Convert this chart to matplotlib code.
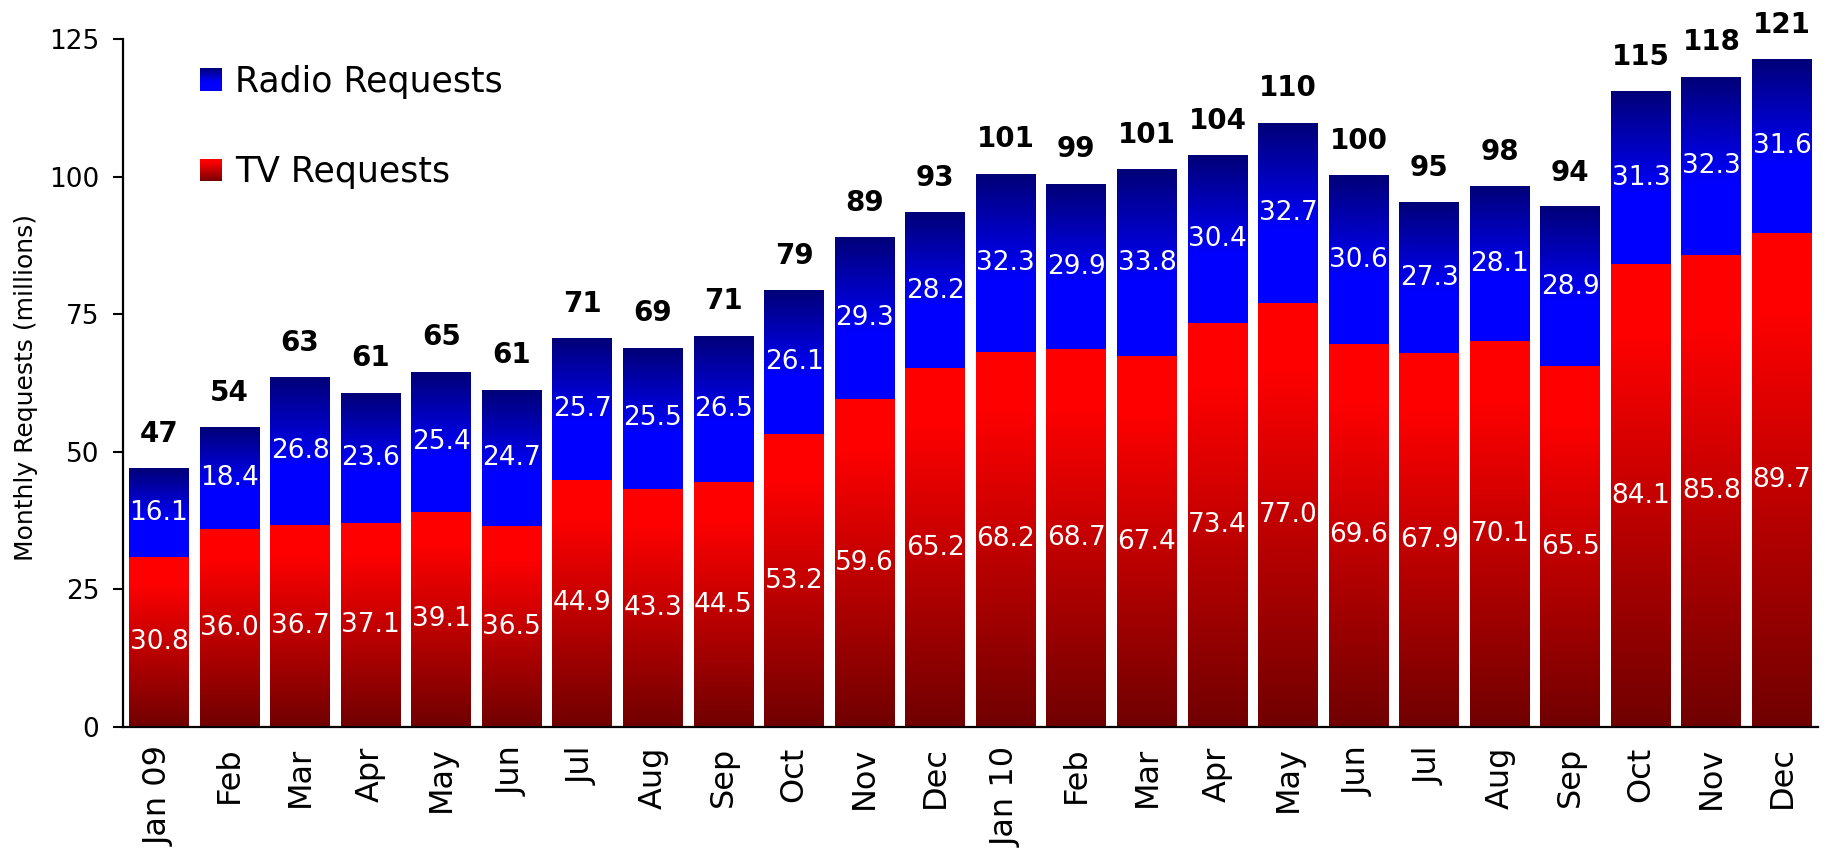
import numpy as np
import matplotlib.pyplot as plt
from matplotlib.colors import LinearSegmentedColormap
from matplotlib.legend_handler import HandlerBase
from matplotlib.patches import Rectangle

months = ['Jan 09', 'Feb', 'Mar', 'Apr', 'May', 'Jun', 'Jul', 'Aug', 'Sep', 'Oct', 'Nov', 'Dec',
          'Jan 10', 'Feb', 'Mar', 'Apr', 'May', 'Jun', 'Jul', 'Aug', 'Sep', 'Oct', 'Nov', 'Dec']
tv = [30.8, 36.0, 36.7, 37.1, 39.1, 36.5, 44.9, 43.3, 44.5, 53.2, 59.6, 65.2,
      68.2, 68.7, 67.4, 73.4, 77.0, 69.6, 67.9, 70.1, 65.5, 84.1, 85.8, 89.7]
radio = [16.1, 18.4, 26.8, 23.6, 25.4, 24.7, 25.7, 25.5, 26.5, 26.1, 29.3, 28.2,
         32.3, 29.9, 33.8, 30.4, 32.7, 30.6, 27.3, 28.1, 28.9, 31.3, 32.3, 31.6]
totals = [47, 54, 63, 61, 65, 61, 71, 69, 71, 79, 89, 93,
          101, 99, 101, 104, 110, 100, 95, 98, 94, 115, 118, 121]

plt.rcParams['font.family'] = ['DejaVu Sans']

# colour runs from the bottom of a segment (0) to its top (1)
tv_cmap = LinearSegmentedColormap.from_list(
    'tv', [(0.0, '#700000'), (0.85, '#ff0000'), (1.0, '#ff0000')])
radio_cmap = LinearSegmentedColormap.from_list(
    'radio', [(0.0, '#0000ff'), (0.4, '#0000ff'), (1.0, '#000078')])
grad = np.linspace(0, 1, 256).reshape(-1, 1)


def fill_gradient(ax, bars, cmap):
    # paint each bar's rectangle with a vertical gradient image
    for bar in bars:
        x, y = bar.get_x(), bar.get_y()
        w, h = bar.get_width(), bar.get_height()
        ax.imshow(grad, cmap=cmap, origin='lower', aspect='auto',
                  interpolation='bilinear', extent=[x, x + w, y, y + h], zorder=2)


class GradientHandler(HandlerBase):
    def __init__(self, cmap, n=24):
        super().__init__()
        self.cmap = cmap
        self.n = n

    def create_artists(self, legend, orig_handle, xdescent, ydescent,
                       width, height, fontsize, trans):
        out = []
        step = height / self.n
        for i in range(self.n):
            out.append(Rectangle((-xdescent, -ydescent + i * step), width, step * 1.05,
                                 facecolor=self.cmap((i + 0.5) / self.n),
                                 edgecolor='none', transform=trans))
        return out


fig = plt.figure(figsize=(18.27, 8.55), dpi=100)
ax = fig.add_axes([0.0673, 0.1497, 0.9278, 0.8047])

x = np.arange(len(months))
w = 0.85
tv_bars = ax.bar(x, tv, width=w, color='none', edgecolor='none', zorder=2)
radio_bars = ax.bar(x, radio, width=w, bottom=tv, color='none', edgecolor='none', zorder=2)
fill_gradient(ax, tv_bars, tv_cmap)
fill_gradient(ax, radio_bars, radio_cmap)

ax.bar_label(tv_bars, labels=[f'{v:.1f}' for v in tv], label_type='center',
             color='white', fontsize=19, zorder=3)
ax.bar_label(radio_bars, labels=[f'{v:.1f}' for v in radio], label_type='center',
             color='white', fontsize=19, zorder=3)
ax.bar_label(radio_bars, labels=[str(t) for t in totals], padding=15,
             fontsize=20, fontweight='bold', color='black')

ax.set_xlim(-0.51, len(months) - 0.49)
ax.set_ylim(0, 125)
ax.set_yticks([0, 25, 50, 75, 100, 125])
ax.set_xticks(x)
ax.set_xticklabels(months, rotation=90, fontsize=23)
ax.tick_params(axis='x', length=0, pad=14)
ax.tick_params(axis='y', labelsize=19, length=7, width=1.5, pad=10)
for side in ['top', 'right']:
    ax.spines[side].set_visible(False)
for side in ['left', 'bottom']:
    ax.spines[side].set_linewidth(1.6)

ax.set_ylabel('Monthly Requests (millions)', fontsize=18)
ax.yaxis.set_label_coords(-0.050, 0.493)

ax.legend([radio_bars, tv_bars], ['Radio Requests', 'TV Requests'],
          handler_map={radio_bars: GradientHandler(radio_cmap),
                       tv_bars: GradientHandler(tv_cmap)},
          loc='upper left', bbox_to_anchor=(200 / 1827, 1 - 65 / 855),
          bbox_transform=fig.transFigure, frameon=False, fontsize=25,
          handlelength=0.63, handleheight=0.63, handletextpad=0.37,
          labelspacing=1.62, borderpad=0, borderaxespad=0)

fig.savefig('out.png', dpi=100)
